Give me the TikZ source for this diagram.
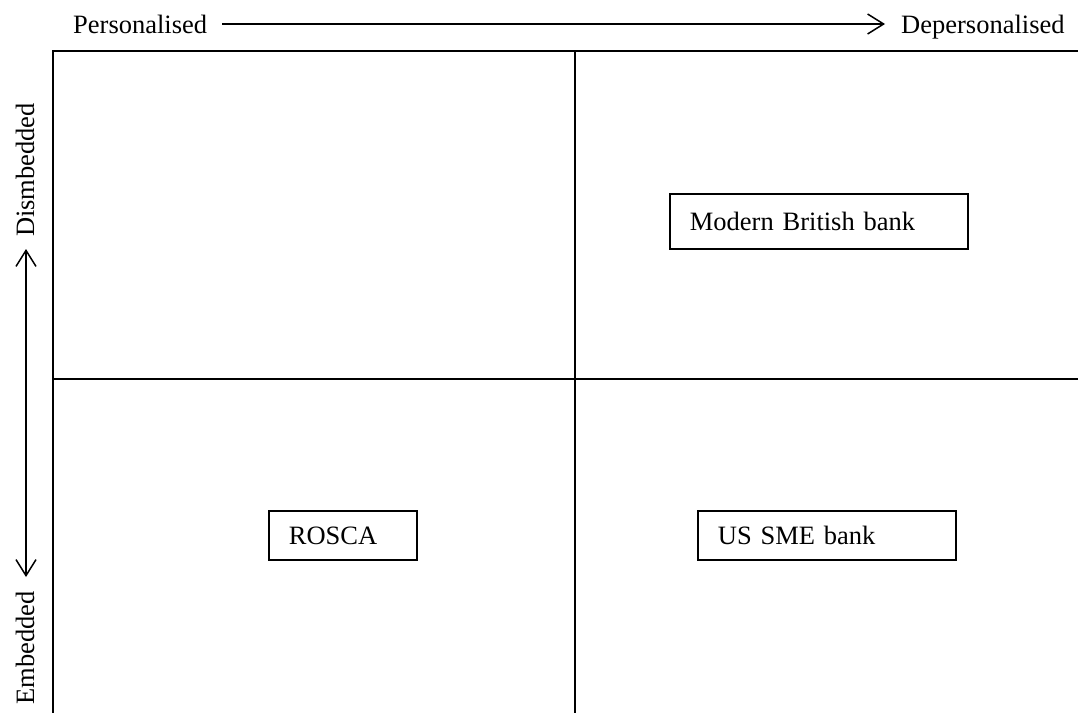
\documentclass[tikz,border=0pt]{standalone}
\usepackage{fontspec}
\setmainfont{Liberation Serif}
\usetikzlibrary{arrows.meta}
\begin{document}
\begin{tikzpicture}[x=1pt,y=-1pt,
  lbl/.style={font=\fontsize{26.5}{30}\selectfont, inner sep=0pt},
  grid/.style={line width=2pt, black},
  barb/.tip={Straight Barb[length=16pt,width=20pt,line width=1.5pt]},
  axis/.style={line width=1.5pt},
  item/.style={draw, line width=1.8pt, rectangle, font=\fontsize{26.5}{30}\selectfont, align=left, inner xsep=20pt, inner ysep=0pt, anchor=north west}]
\useasboundingbox (0,0) rectangle (1078,712);
\clip (0,0) rectangle (1078,712);
% grid
\coordinate (tl) at (53,51);
\coordinate (tr) at (1080,51);
\coordinate (bl) at (53,714);
\coordinate (ml) at (53,379);
\coordinate (mr) at (1080,379);
\coordinate (mt) at (575,51);
\coordinate (mb) at (575,714);
\draw[grid] (bl) -- (tl) -- (tr);
\draw[grid] (ml) -- (mr);
\draw[grid] (mt) -- (mb);
% horizontal axis
\node[lbl, anchor=base west] (pers) at (73,33) {Personalised};
\node[lbl, anchor=base west] (depers) at (901,33) {Depersonalised};
\coordinate (hs) at (222,24);
\coordinate (he) at (885,24);
\draw[axis, -barb] (hs) -- (he);
% vertical axis
\node[lbl, rotate=90, anchor=base] (dis) at (34,170) {Dismbedded};
\node[lbl, rotate=90, anchor=base] (emb) at (34,648) {Embedded};
\coordinate (vb) at (26,577);
\coordinate (vt) at (26,249);
\draw[axis, barb-barb] (vb) -- (vt);
% boxes
\node[item, minimum width=298pt, minimum height=55pt, text width=258pt] (mbb) at (669,193) {Modern British bank};
\node[item, minimum width=148pt, minimum height=49pt, text width=108pt] (rosca) at (268,510) {ROSCA};
\node[item, minimum width=258pt, minimum height=49pt, text width=218pt] (us) at (697,510) {US SME bank};
\end{tikzpicture}
\end{document}
